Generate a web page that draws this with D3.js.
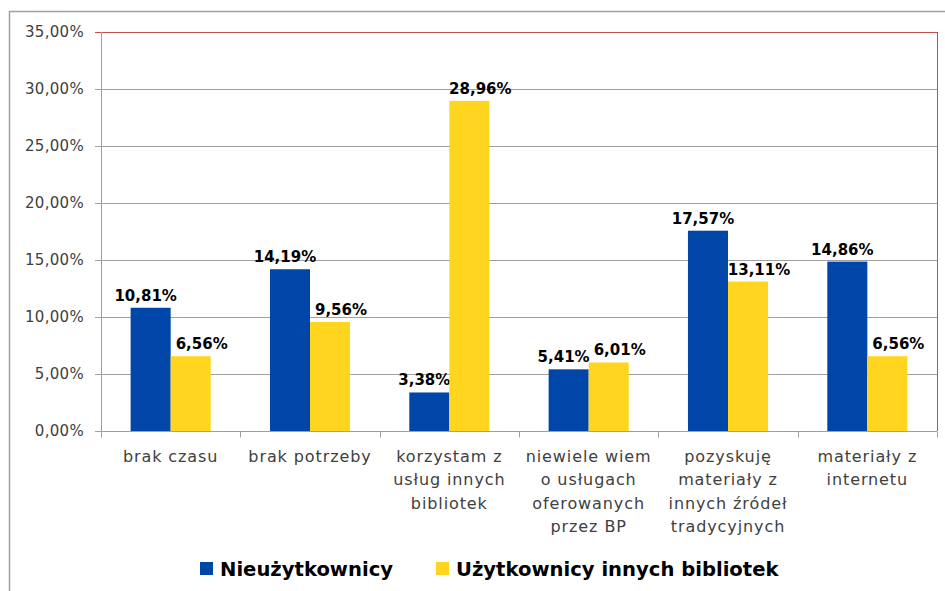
<!DOCTYPE html>
<html>
<head>
<meta charset="utf-8">
<script src="https://cdn.jsdelivr.net/npm/d3@7"></script>
<style>
  body { margin: 0; background: #fff; }
  svg { display: block; }
</style>
</head>
<body>
<div id="chart"></div>
<script>
// categories (multi-line labels)
var categories = [
    ["brak czasu"],
    ["brak potrzeby"],
    ["korzystam z", "usług innych", "bibliotek"],
    ["niewiele wiem", "o usługach", "oferowanych", "przez BP"],
    ["pozyskuję", "materiały z", "innych źródeł", "tradycyjnych"],
    ["materiały z", "internetu"]
];
var seriesNames = ["Nieużytkownicy", "Użytkownicy innych bibliotek"];
var nieuzytkownicy = [10.81, 14.19, 3.38, 5.41, 17.57, 14.86];
var uzytkownicy = [6.56, 9.56, 28.96, 6.01, 13.11, 6.56];
var yTicks = [0, 5, 10, 15, 20, 25, 30, 35];
var colors = ["#0046a8", "#ffd520"];
// labels were nudged sideways in the original so they don't collide
var labelShift = [-5, 11];

var width = 945, height = 591;
var margin = {left: 101, right: 8, top: 32, bottom: 160};

var svg = d3.select("#chart").append("svg")
    .attr("width", width)
    .attr("height", height);

// outer frame
svg.append("path")
    .attr("d", "M9.5," + height + "V11.5H" + width)
    .attr("fill", "none")
    .attr("stroke", "#a0a0a0")
    .attr("stroke-width", 1.5);

var x = d3.scaleBand()
    .domain(d3.range(categories.length))
    .range([margin.left, width - margin.right]);

var inner = d3.scaleBand()
    .domain([0, 1])
    .range([0, x.bandwidth()])
    .paddingInner(0)
    .paddingOuter(0.74);

var y = d3.scaleLinear()
    .domain([0, 35])
    .range([height - margin.bottom, margin.top]);

var fmt = function (v) { return v.toFixed(2).replace(".", ",") + "%"; };

// gridlines
svg.append("g")
    .selectAll("line")
    .data(yTicks.slice(1))
    .enter()
    .append("line")
    .attr("x1", margin.left - 6)
    .attr("x2", width - margin.right)
    .attr("y1", function (d) { return Math.round(y(d)) + 0.5; })
    .attr("y2", function (d) { return Math.round(y(d)) + 0.5; })
    .attr("stroke", function (d) { return d === 35 ? "#c0504d" : "#a0a0a0"; })
    .attr("stroke-width", 1);

// right red border
svg.append("line")
    .attr("x1", width - margin.right + 0.5)
    .attr("x2", width - margin.right + 0.5)
    .attr("y1", y(35))
    .attr("y2", y(0))
    .attr("stroke", "#c0504d");

// y labels
svg.append("g")
    .selectAll("text")
    .data(yTicks)
    .enter()
    .append("text")
    .attr("x", 84)
    .attr("y", function (d) { return y(d); })
    .attr("dy", "0.35em")
    .attr("text-anchor", "end")
    .attr("font-family", "DejaVu Sans, sans-serif")
    .attr("font-size", 15)
    .attr("letter-spacing", 0.3)
    .attr("fill", "#404040")
    .text(function (d) { return fmt(d); });

// bars
var data = [nieuzytkownicy, uzytkownicy];
data.forEach(function (vals, s) {
    var g = svg.append("g");
    g.selectAll("rect")
        .data(vals)
        .enter()
        .append("rect")
        .attr("x", function (d, i) { return x(i) + inner(s); })
        .attr("y", function (d) { return y(d); })
        .attr("width", inner.bandwidth())
        .attr("height", function (d) { return y(0) - y(d); })
        .attr("fill", colors[s]);
    g.selectAll("text")
        .data(vals)
        .enter()
        .append("text")
        .attr("x", function (d, i) { return x(i) + inner(s) + inner.bandwidth() / 2 + labelShift[s]; })
        .attr("y", function (d) { return y(d) - 7; })
        .attr("text-anchor", "middle")
        .attr("font-family", "DejaVu Sans, sans-serif")
        .attr("font-weight", "bold")
        .attr("font-size", 15)
        .attr("fill", "#000")
        .text(function (d) { return fmt(d); });
});

// x axis line and ticks
var y0 = Math.round(y(0)) + 0.5;
svg.append("line")
    .attr("x1", margin.left - 6)
    .attr("x2", width - margin.right)
    .attr("y1", y0)
    .attr("y2", y0)
    .attr("stroke", "#a0a0a0");
svg.append("line")
    .attr("x1", margin.left + 0.5)
    .attr("x2", margin.left + 0.5)
    .attr("y1", y(35))
    .attr("y2", y0 + 6)
    .attr("stroke", "#a0a0a0");
svg.append("g")
    .selectAll("line")
    .data(d3.range(1, categories.length + 1))
    .enter()
    .append("line")
    .attr("x1", function (i) { return Math.round(margin.left + i * x.step()) + 0.5; })
    .attr("x2", function (i) { return Math.round(margin.left + i * x.step()) + 0.5; })
    .attr("y1", y0)
    .attr("y2", y0 + 6)
    .attr("stroke", "#a0a0a0");

// category labels
var cat = svg.append("g")
    .selectAll("text")
    .data(categories)
    .enter()
    .append("text")
    .attr("text-anchor", "middle")
    .attr("font-family", "DejaVu Sans, sans-serif")
    .attr("font-size", 16)
    .attr("letter-spacing", 0.9)
    .attr("fill", "#404040");
cat.selectAll("tspan")
    .data(function (d, i) { return d.map(function (t) { return {t: t, i: i}; }); })
    .enter()
    .append("tspan")
    .attr("x", function (d) { return x(d.i) + x.bandwidth() / 2; })
    .attr("y", function (d, j) { return 462 + j * 23.3; })
    .text(function (d) { return d.t; });

// legend
var legendX = [200, 436];
var legend = svg.append("g")
    .selectAll("g")
    .data(seriesNames)
    .enter()
    .append("g")
    .attr("transform", function (d, i) { return "translate(" + legendX[i] + ",562)"; });
legend.append("rect")
    .attr("width", 13)
    .attr("height", 13)
    .attr("fill", function (d, i) { return colors[i]; });
legend.append("text")
    .attr("x", 20)
    .attr("y", 14)
    .attr("font-family", "DejaVu Sans, sans-serif")
    .attr("font-weight", "bold")
    .attr("font-size", 19.6)
    .attr("fill", "#000")
    .text(function (d) { return d; });
</script>
</body>
</html>
